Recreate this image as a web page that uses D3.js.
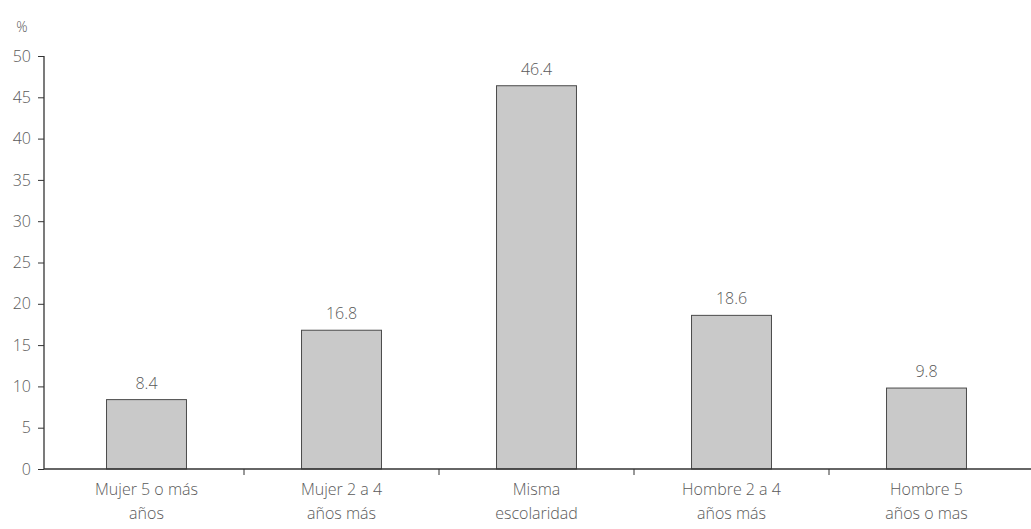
<!DOCTYPE html>
<html>
<head>
<meta charset="utf-8">
<script src="https://cdn.jsdelivr.net/npm/d3@7"></script>
<style>
  body { margin: 0; background: #fff; }
  text { font-family: "Open Sans", "DejaVu Sans", sans-serif; font-weight: 300; fill: #5a5a5a; }
</style>
</head>
<body>
<script>
var width = 1031
var height = 529

// data
var categories = [
  ["Mujer 5 o más", "años"],
  ["Mujer 2 a 4", "años más"],
  ["Misma", "escolaridad"],
  ["Hombre 2 a 4", "años más"],
  ["Hombre 5", "años o mas"]
]
var values = [8.4, 16.8, 46.4, 18.6, 9.8]
var yTicks = [0, 5, 10, 15, 20, 25, 30, 35, 40, 45, 50]

var svg = d3.select("body").append("svg")
    .attr("width", width)
    .attr("height", height)

var x = d3.scaleBand()
    .domain(d3.range(categories.length))
    .range([49, 1024])
    .paddingInner(0.59)
    .paddingOuter(0.295)

var y = d3.scaleLinear().domain([0, 50]).range([469, 56])

// y axis
var yAxis = svg.append("g").attr("transform", "translate(44,0)")
    .call(d3.axisLeft(y).tickValues(yTicks).tickSize(6).tickPadding(7))
yAxis.select(".domain").attr("d", "M0," + y(50) + "V" + y(0)).attr("stroke", "#333").attr("stroke-width", 1.3)
yAxis.selectAll(".tick line").attr("stroke", "#333")
yAxis.selectAll(".tick text").style("font-size", "16px").attr("fill", "#5a5a5a")

svg.append("text")
    .attr("x", 22).attr("y", 32)
    .attr("text-anchor", "middle")
    .style("font-size", "14px")
    .text("%")

// bars
svg.selectAll("rect.bar").data(values).enter()
  .append("rect")
    .attr("class", "bar")
    .attr("x", function(d, i){ return x(i) })
    .attr("y", function(d){ return y(d) })
    .attr("width", x.bandwidth())
    .attr("height", function(d){ return y(0) - y(d) })
    .attr("fill", "#c9c9c9")
    .attr("stroke", "#4a4a4a")
    .attr("stroke-width", 1)

svg.selectAll("text.val").data(values).enter()
  .append("text")
    .attr("class", "val")
    .attr("x", function(d, i){ return x(i) + x.bandwidth() / 2 })
    .attr("y", function(d){ return y(d) - 11 })
    .attr("text-anchor", "middle")
    .style("font-size", "16px")
    .text(function(d){ return d.toFixed(1) })

// x axis
svg.append("line")
    .attr("x1", 44).attr("x2", width)
    .attr("y1", y(0)).attr("y2", y(0))
    .attr("stroke", "#333").attr("stroke-width", 1.3)

var step = x.step()
svg.selectAll("line.xtick").data(d3.range(1, categories.length)).enter()
  .append("line")
    .attr("class", "xtick")
    .attr("x1", function(i){ return x(i) - step * x.paddingInner() / 2 })
    .attr("x2", function(i){ return x(i) - step * x.paddingInner() / 2 })
    .attr("y1", y(0)).attr("y2", y(0) + 6)
    .attr("stroke", "#333")

var labels = svg.selectAll("text.cat").data(categories).enter()
  .append("text")
    .attr("class", "cat")
    .attr("text-anchor", "middle")
    .style("font-size", "16px")

labels.selectAll("tspan").data(function(d, i){ return d.map(function(t){ return { t: t, i: i } }) }).enter()
  .append("tspan")
    .attr("x", function(d){ return x(d.i) + x.bandwidth() / 2 })
    .attr("y", function(d, j){ return 495 + j * 24 })
    .text(function(d){ return d.t })
</script>
</body>
</html>
